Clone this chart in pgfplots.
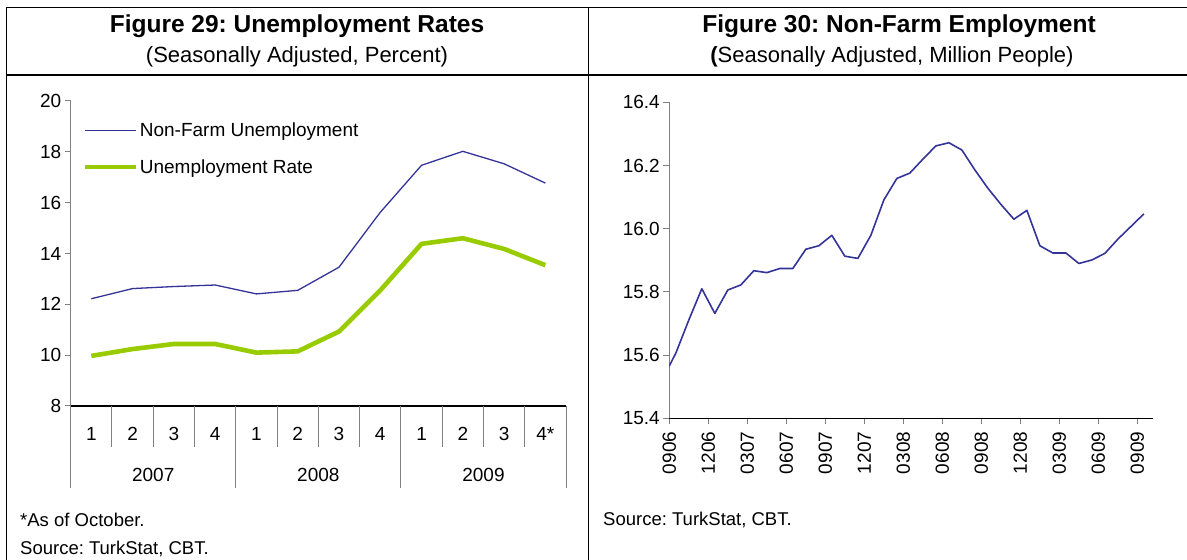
\documentclass[border=0pt]{standalone}
\usepackage{fontspec}
\setmainfont{Liberation Sans}
\usepackage{pgfplots}
\pgfplotsset{compat=1.18}
\definecolor{navyline}{RGB}{51,51,153}
\definecolor{limeline}{RGB}{153,204,0}
\definecolor{axgray}{RGB}{128,128,128}

\newcommand{\tickfont}{\fontsize{19bp}{22bp}\selectfont}
\newcommand{\notefont}{\fontsize{18.5bp}{22bp}\selectfont}
\frenchspacing

\pgfplotsset{
  panel/.style={
    scale only axis,
    axis x line*=bottom, axis y line*=left,
    axis line style={-},
    x axis line style={black, line width=1.2bp},
    y axis line style={axgray, line width=1.2bp},
    tick align=outside,
    major tick length=6bp,
    tick style={axgray, line width=1bp},
    tick label style={font=\tickfont, text=black},
    /pgf/number format/assume math mode=true,
  },
}

\begin{document}
\begin{tikzpicture}
\useasboundingbox (0bp,0bp) rectangle (1187bp,560bp);

% frame of the two panels
\draw[line width=1bp] (6bp,0bp) -- (6bp,552.7bp) -- (1187bp,552.7bp);
\draw[line width=2.2bp] (6bp,485bp) -- (1187bp,485bp);
\draw[line width=1bp] (588bp,552.7bp) -- (588bp,0bp);

% titles
\node[font=\fontsize{24.5bp}{28bp}\selectfont\bfseries] at (297bp,534bp) {Figure 29: Unemployment Rates};
\node[font=\fontsize{22bp}{26bp}\selectfont] at (297bp,503bp) {(Seasonally Adjusted, Percent)};
\node[font=\fontsize{24.5bp}{28bp}\selectfont\bfseries] at (899bp,534bp) {Figure 30: Non-Farm Employment};
\node[font=\fontsize{22bp}{26bp}\selectfont] at (892bp,503bp) {\textbf{(}Seasonally Adjusted, Million People)};

% notes
\node[anchor=west, inner sep=0pt, font=\notefont] at (20bp,40bp) {*As of October.};
\node[anchor=west, inner sep=0pt, font=\notefont] at (20bp,11bp) {Source: TurkStat, CBT.};
\node[anchor=west, inner sep=0pt, font=\notefont] at (603bp,40bp) {Source: TurkStat, CBT.};

% ---------- Figure 29 ----------
\begin{axis}[
  panel,
  at={(70.7bp,154bp)}, anchor=south west,
  width=495.3bp, height=305bp,
  xmin=0, xmax=12, ymin=8, ymax=20,
  ytick={8,10,...,20},
  xtick={0.5,1.5,...,11.5},
  xticklabels={1,2,3,4,1,2,3,4,1,2,3,4*},
  xtick style={draw=none},
  xticklabel style={anchor=center, yshift=-22bp},
  clip=false,
  legend style={at={(0.023,0.935)}, anchor=north west, draw=none, fill=none,
    font=\tickfont, inner sep=0pt, row sep=17bp,
    nodes={inner sep=2bp}},
  legend cell align=left,
  legend image code/.code={\draw[#1] (0bp,0bp) -- (51bp,0bp);},
]
\addplot[navyline, line width=1.3bp, line join=round] coordinates {
  (0.5,12.22) (1.5,12.62) (2.5,12.70) (3.5,12.76)
  (4.5,12.41) (5.5,12.55) (6.5,13.46) (7.5,15.62)
  (8.5,17.47) (9.5,18.02) (10.5,17.53) (11.5,16.77)
};
\addlegendentry{Non-Farm Unemployment}
\addplot[limeline, line width=4.6bp, line join=round] coordinates {
  (0.5,9.97) (1.5,10.24) (2.5,10.44) (3.5,10.44)
  (4.5,10.10) (5.5,10.15) (6.5,10.93) (7.5,12.55)
  (8.5,14.38) (9.5,14.60) (10.5,14.18) (11.5,13.54)
};
\addlegendentry{Unemployment Rate}

\pgfplotsinvokeforeach{1,2,3,5,6,7,9,10,11}{
  \draw[axgray, line width=1bp] (axis cs:#1,8) -- ++(0bp,-40.7bp);
}
\pgfplotsinvokeforeach{0,4,8,12}{
  \draw[axgray, line width=1bp] (axis cs:#1,8) -- ++(0bp,-82bp);
}
\node[font=\tickfont] at (axis cs:2,8) [yshift=-69bp] {2007};
\node[font=\tickfont] at (axis cs:6,8) [yshift=-69bp] {2008};
\node[font=\tickfont] at (axis cs:10,8) [yshift=-69bp] {2009};
\end{axis}

% ---------- Figure 30 ----------
\begin{axis}[
  panel,
  at={(669.3bp,141.7bp)}, anchor=south west,
  width=483.7bp, height=316bp,
  xmin=0, xmax=37.2, ymin=15.4, ymax=16.4,
  ytick={15.4,15.6,15.8,16.0,16.2,16.4},
  yticklabel style={/pgf/number format/.cd, fixed, fixed zerofill, precision=1},
  xtick={0,3,...,36},
  xticklabels={0906,1206,0307,0607,0907,1207,0308,0608,0908,1208,0309,0609,0909},
  xticklabel style={yshift=-4bp, rotate=90, anchor=east},
]
\addplot[navyline, line width=1.6bp, line join=round] coordinates {
  (-0.5,15.526)
  (0.5,15.606) (1.5,15.711) (2.5,15.810) (3.5,15.732) (4.5,15.806)
  (5.5,15.822) (6.5,15.867) (7.5,15.861) (8.5,15.874) (9.5,15.874)
  (10.5,15.935) (11.5,15.946) (12.5,15.979) (13.5,15.913) (14.5,15.906)
  (15.5,15.979) (16.5,16.091) (17.5,16.159) (18.5,16.176) (19.5,16.220)
  (20.5,16.262) (21.5,16.272) (22.5,16.249) (23.5,16.186) (24.5,16.128)
  (25.5,16.077) (26.5,16.030) (27.5,16.058) (28.5,15.946) (29.5,15.923)
  (30.5,15.923) (31.5,15.890) (32.5,15.901) (33.5,15.922) (34.5,15.967)
  (35.5,16.007) (36.5,16.047)
};
\end{axis}
\end{tikzpicture}
\end{document}
